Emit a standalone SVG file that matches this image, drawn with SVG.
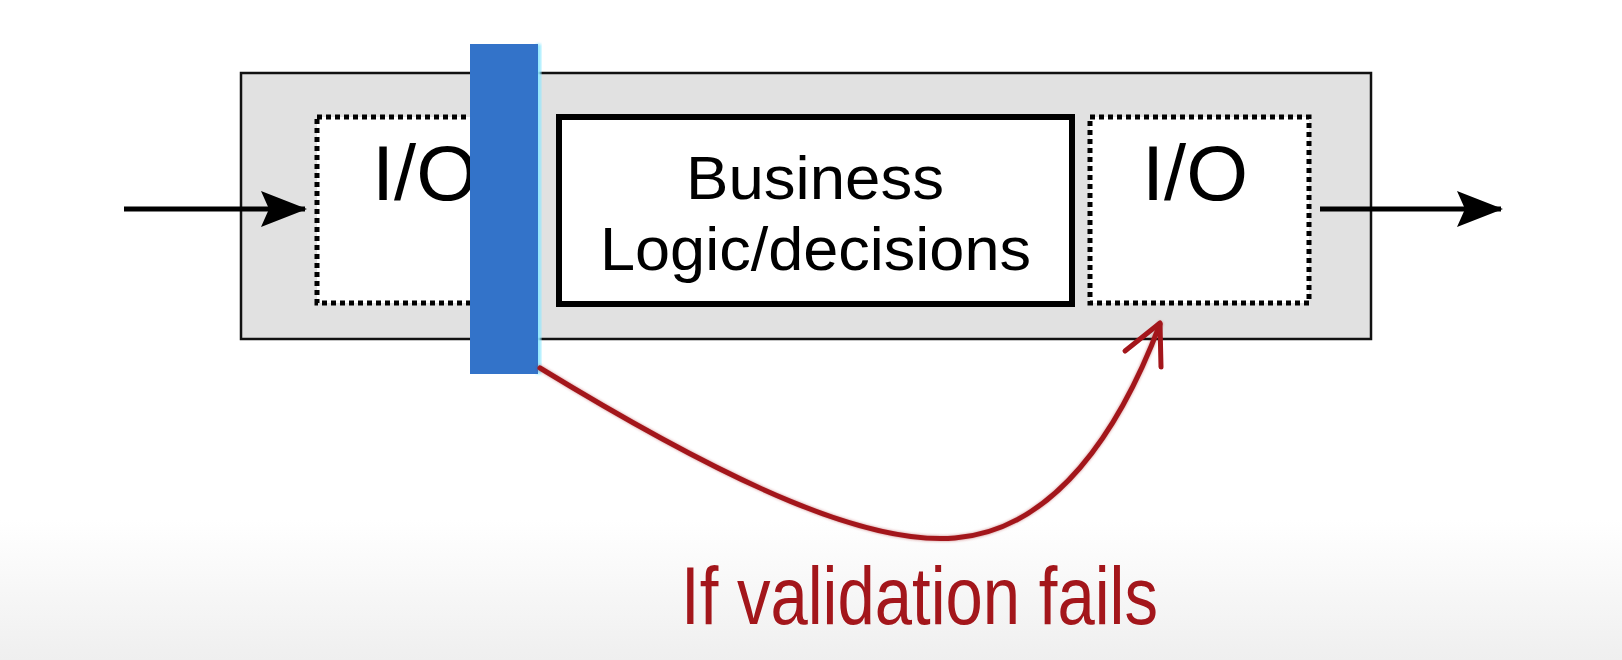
<svg xmlns="http://www.w3.org/2000/svg" width="1622" height="660" viewBox="0 0 1622 660">
  <defs>
    <linearGradient id="bg" x1="0" y1="0" x2="0" y2="1">
      <stop offset="0" stop-color="#ffffff"/>
      <stop offset="1" stop-color="#efefef"/>
    </linearGradient>
    <marker id="blackArrow" viewBox="0 0 46 36" refX="44" refY="18" markerWidth="46" markerHeight="36" markerUnits="userSpaceOnUse" orient="auto">
      <path d="M0,0 L46,18 L0,36 L8,18 Z" fill="#000"/>
    </marker>
    <filter id="glow" x="-10%" y="-10%" width="120%" height="120%">
      <feGaussianBlur stdDeviation="1.5"/>
    </filter>
  </defs>
  <style>
    .hand { font-family: "Liberation Sans", "DejaVu Sans", sans-serif; fill: #000; text-anchor: start; }
    .dotted { fill: #fff; stroke: #000; stroke-width: 5; stroke-dasharray: 5 4; }
    .flow { stroke: #000; stroke-width: 5; fill: none; }
    .fail { stroke: #a3161b; stroke-width: 5; fill: none; stroke-linecap: round; stroke-linejoin: round; }
  </style>
  <rect x="0" y="0" width="1622" height="660" fill="#fff"/>
  <rect x="0" y="520" width="1622" height="140" fill="url(#bg)"/>

  <g id="container">
    <rect x="241" y="73" width="1130" height="266" fill="#e1e1e1" stroke="#111" stroke-width="2.5"/>
  </g>

  <g id="io-left">
    <rect class="dotted" x="317" y="117" width="200" height="186"/>
    <text class="hand" x="372" y="200" font-size="78" textLength="106" lengthAdjust="spacingAndGlyphs">I/O</text>
  </g>

  <g id="business">
    <rect x="559" y="117" width="513" height="187" fill="#fff" stroke="#000" stroke-width="6"/>
    <text class="hand" x="686" y="199" font-size="62" textLength="258" lengthAdjust="spacingAndGlyphs">Business</text>
    <text class="hand" x="600" y="270" font-size="62" textLength="431" lengthAdjust="spacingAndGlyphs">Logic/decisions</text>
  </g>

  <g id="io-right">
    <rect class="dotted" x="1090" y="117" width="219" height="186"/>
    <text class="hand" x="1142" y="200" font-size="78" textLength="106" lengthAdjust="spacingAndGlyphs">I/O</text>
  </g>

  <g id="validation-bar">
    <rect x="536" y="44" width="5" height="330" fill="#8fe8ff" filter="url(#glow)"/>
    <rect x="470" y="44" width="68" height="330" fill="#3373c9"/>
  </g>

  <g id="connectors">
    <line class="flow" x1="124" y1="209" x2="305" y2="209" marker-end="url(#blackArrow)"/>
    <line class="flow" x1="1320" y1="209" x2="1501" y2="209" marker-end="url(#blackArrow)"/>
    <g id="fail-arrow">
      <path class="fail" d="M540,368 C740,490 870,545 955,538 C1055,530 1120,430 1160,324" stroke="#ff9aa6" stroke-width="9" opacity="0.5" filter="url(#glow)"/>
      <path class="fail" d="M540,368 C740,490 870,545 955,538 C1055,530 1120,430 1160,324"/>
      <path class="fail" d="M1125,351 L1160,323 L1161,367" stroke-width="7"/>
    </g>
  </g>

  <g id="fail-label">
    <text class="hand" x="681" y="624" font-size="82" style="fill:#a3161b" textLength="477" lengthAdjust="spacingAndGlyphs">If validation fails</text>
  </g>
</svg>
